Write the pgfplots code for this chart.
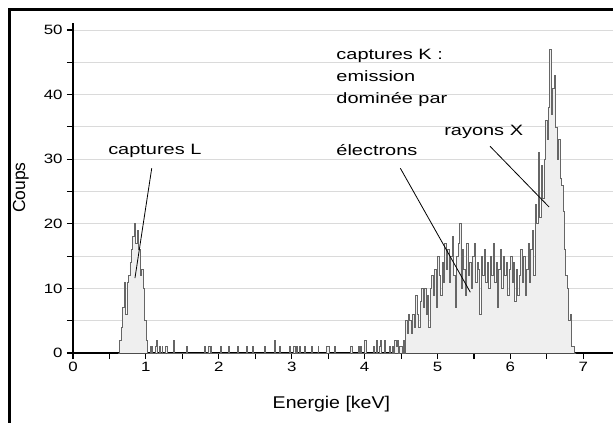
\documentclass[border=0pt]{standalone}
\usepackage{fontspec}
\setmainfont{Liberation Sans}
\usepackage{pgfplots}
\pgfplotsset{compat=1.18}
\definecolor{histfill}{HTML}{EFEFEF}
\definecolor{histline}{HTML}{666666}
\definecolor{gridc}{HTML}{DADADA}
\begin{document}
\begin{tikzpicture}
\useasboundingbox (-73bp,-70bp) rectangle (540bp,353bp);
\begin{axis}[
  at={(0,0)}, anchor=south west,
  scale only axis, width=539.5bp, height=329.5bp,
  xmin=0, xmax=7.4, ymin=0, ymax=51,
  axis x line=bottom, axis y line=left,
  axis line style={-, line width=1.2bp, black},
  xtick={0,1,...,7}, minor xtick={0.5,1.5,...,7},
  ytick={0,10,...,50}, minor ytick={5,15,...,45},
  tick align=outside,
  major tick length=6bp, minor tick length=6bp,
  every tick/.style={black, line width=1.1bp},
  ymajorgrids, yminorgrids,
  major grid style={gridc, line width=0.8bp},
  minor grid style={gridc, line width=0.8bp},
  /pgf/number format/assume math mode=true,
  tick label style={font=\fontsize{13.5bp}{16bp}\selectfont, xscale=1.25},
  xlabel={Energie [keV]}, ylabel={Coups},
  xlabel style={font=\fontsize{17bp}{20bp}\selectfont, xscale=1.15,
    at={(axis description cs:0.479,-0.156)}, anchor=center},
  ylabel style={font=\fontsize{17.5bp}{20bp}\selectfont,
    at={(axis description cs:-0.0968,0.502)}, anchor=center},
  clip=false,
]
\addplot[const plot, fill=histfill, draw=histline, line width=0.7bp] coordinates {
(0.62,0)
(0.64,2)(0.66,4)(0.68,7)(0.70,11)(0.72,6)(0.74,11)(0.76,12)(0.78,14)(0.80,16)(0.82,18)
(0.84,20)(0.86,17)(0.88,19)(0.90,16)(0.92,12)(0.94,13)(0.96,10)(0.98,5)(1.00,2)(1.02,0)
(1.06,1)(1.072,0)(1.08,1)(1.092,0)(1.13,1)(1.14,2)(1.152,0)(1.19,1)(1.202,0)(1.22,1)(1.232,0)
(1.26,1)(1.28,1)(1.292,0)(1.38,2)(1.392,0)(1.55,1)(1.562,0)(1.80,1)(1.812,0)(1.85,1)(1.87,1)(1.882,0)
(1.89,1)(1.902,0)(2.02,1)(2.032,0)(2.13,1)(2.142,0)(2.25,1)(2.262,0)(2.38,1)(2.392,0)(2.46,1)(2.48,0)
(2.62,1)(2.632,0)(2.76,2)(2.772,0)(2.83,1)(2.842,0)(2.97,1)(2.982,0)(3.02,1)(3.04,1)(3.052,0)
(3.07,1)(3.082,0)(3.11,1)(3.122,0)(3.18,1)(3.192,0)(3.27,1)(3.282,0)(3.36,1)(3.372,0)(3.48,1)(3.50,1)(3.512,0)
(3.59,1)(3.602,0)(3.80,1)(3.83,0)(3.91,1)(3.922,0)(3.94,1)(3.952,0)(4.00,2)(4.03,0)(4.12,1)(4.132,0)
(4.16,2)(4.172,0)(4.20,1)(4.22,2)(4.232,0)(4.27,2)(4.282,0)(4.34,1)(4.352,0)(4.38,1)(4.392,0)
(4.41,2)(4.43,1)(4.45,2)(4.462,0)(4.48,1)(4.50,1)(4.512,0)(4.53,2)(4.542,0)
(4.56,5)(4.58,3)(4.60,6)(4.62,5)(4.64,3)(4.66,6)(4.68,4)(4.70,9)(4.72,6)(4.74,4)(4.76,8)(4.78,10)
(4.80,7)(4.82,10)(4.84,6)(4.86,9)(4.88,4)(4.90,10)(4.92,12)(4.94,9)(4.96,13)(4.98,7)(5.00,15)
(5.02,12)(5.04,9)(5.06,14)(5.08,11)(5.10,17)(5.12,13)(5.14,16)(5.16,11)(5.18,15)(5.20,18)(5.22,12)
(5.24,7)(5.26,15)(5.28,17)(5.30,20)(5.32,10)(5.34,16)(5.36,13)(5.38,9)(5.40,17)(5.42,12)(5.44,14)
(5.46,10)(5.48,15)(5.50,17)(5.52,11)(5.54,14)(5.56,13)(5.58,6)(5.60,15)(5.62,12)(5.64,16)(5.66,11)
(5.68,14)(5.70,10)(5.72,15)(5.74,12)(5.76,17)(5.78,11)(5.80,14)(5.82,7)(5.84,13)(5.86,16)(5.88,10)
(5.90,15)(5.92,12)(5.94,14)(5.96,9)(5.98,13)(6.00,15)(6.02,11)(6.04,14)(6.06,8)(6.08,13)(6.10,9)
(6.12,12)(6.14,16)(6.16,11)(6.18,15)(6.20,9)(6.22,13)(6.24,17)(6.26,11)(6.28,16)(6.30,19)(6.32,12)
(6.34,23)(6.36,20)(6.38,31)(6.40,21)(6.42,29)(6.44,24)(6.46,30)(6.48,36)(6.50,33)(6.52,38)(6.54,47)
(6.56,37)(6.58,41)(6.60,43)(6.62,35)(6.64,30)(6.66,33)(6.68,27)(6.70,26)(6.72,22)(6.74,16)(6.76,12)
(6.78,10)(6.80,5)(6.82,6)(6.84,1)(6.86,1)(6.88,0)(6.90,0)
} \closedcycle;
\begin{scope}[every node/.style={font=\fontsize{15bp}{18bp}\selectfont, xscale=1.33, inner sep=0pt, anchor=base west}]
\node at (axis cs:0.48,30.8) {captures L};
\node at (axis cs:3.61,45.4) {captures K :};
\node at (axis cs:3.61,42.0) {emission};
\node at (axis cs:3.61,38.65) {dominée par};
\node at (axis cs:5.09,33.7) {rayons X};
\node at (axis cs:3.61,30.5) {électrons};
\end{scope}
\draw[black, line width=0.8bp] (axis cs:1.08,28.6) -- (axis cs:0.85,11.6);
\draw[black, line width=0.8bp] (axis cs:4.49,28.6) -- (axis cs:5.45,9.4);
\draw[black, line width=0.8bp] (axis cs:5.72,32.0) -- (axis cs:6.53,22.6);
\end{axis}
\draw[line width=3bp, miter limit=10] (-63bp,-80bp) -- (-63bp,343bp) -- (550bp,343bp);
\end{tikzpicture}
\end{document}
